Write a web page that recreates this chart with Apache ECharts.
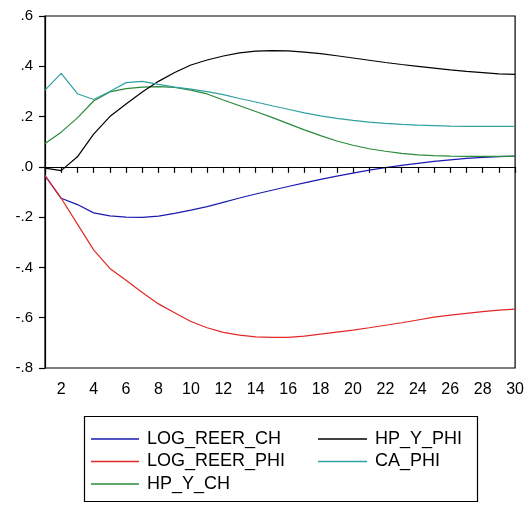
<!DOCTYPE html>
<html>
<head>
<meta charset="utf-8">
<script src="https://cdn.jsdelivr.net/npm/echarts@6/dist/echarts.min.js"></script>
<style>html,body{margin:0;padding:0;background:#fff}#c{width:527px;height:505px}</style>
</head>
<body>
<div id="c"></div>
<script>
var periods = [];
for (var i = 1; i <= 30; i++) periods.push(i);

var seriesNames = ['LOG_REER_CH', 'LOG_REER_PHI', 'HP_Y_CH', 'HP_Y_PHI', 'CA_PHI'];

var logReerCh = [-0.035, -0.125, -0.15, -0.183, -0.195, -0.2, -0.201, -0.196, -0.185, -0.172,
  -0.158, -0.141, -0.124, -0.108, -0.093, -0.078, -0.064, -0.05, -0.037, -0.025,
  -0.013, -0.003, 0.006, 0.014, 0.022, 0.028, 0.034, 0.038, 0.041, 0.043];
var logReerPhi = [-0.035, -0.125, -0.228, -0.33, -0.404, -0.451, -0.5, -0.545, -0.58, -0.615,
  -0.64, -0.658, -0.669, -0.676, -0.678, -0.678, -0.673, -0.665, -0.657, -0.649,
  -0.64, -0.63, -0.62, -0.609, -0.598, -0.59, -0.583, -0.576, -0.57, -0.566];
var hpYCh = [0.093, 0.138, 0.195, 0.262, 0.298, 0.311, 0.317, 0.319, 0.316, 0.305,
  0.29, 0.266, 0.243, 0.22, 0.197, 0.172, 0.147, 0.124, 0.103, 0.086,
  0.072, 0.062, 0.054, 0.048, 0.045, 0.043, 0.042, 0.042, 0.042, 0.042];
var hpYPhi = [-0.005, -0.015, 0.04, 0.13, 0.2, 0.25, 0.298, 0.34, 0.375, 0.405,
  0.425, 0.441, 0.453, 0.46, 0.462, 0.461, 0.456, 0.45, 0.442, 0.433,
  0.424, 0.415, 0.407, 0.4, 0.393, 0.386, 0.38, 0.375, 0.37, 0.368];
var caPhi = [0.305, 0.372, 0.291, 0.268, 0.3, 0.335, 0.34, 0.328, 0.317, 0.309,
  0.299, 0.287, 0.272, 0.258, 0.243, 0.229, 0.215, 0.203, 0.193, 0.185,
  0.178, 0.173, 0.169, 0.166, 0.164, 0.162, 0.161, 0.161, 0.161, 0.161];

var colors = ['#1a1ab0', '#e02828', '#2a8a3a', '#000000', '#30a0a0'];
var allData = [logReerCh, logReerPhi, hpYCh, hpYPhi, caPhi];

function pairs(arr) { return arr.map(function (v, i) { return [periods[i], v]; }); }
function fmtY(v) {
  var s = (Math.round(v * 10) / 10).toFixed(1);
  return s.replace('0.', '.');
}

var FONT = 'Liberation Sans, Arial, sans-serif';
var series = seriesNames.map(function (n, k) {
  var s = {
    name: n, type: 'line', data: pairs(allData[k]), symbol: 'none', showSymbol: false,
    lineStyle: { color: colors[k], width: 1.2 }, itemStyle: { color: colors[k] },
    animation: false, z: 3
  };
  if (k === 0) {
    s.markLine = {
      silent: true, symbol: 'none', label: { show: false },
      lineStyle: { color: '#000', width: 1.2, type: 'solid' },
      data: [{ yAxis: 0 }], animation: false
    };
  }
  return s;
});

var chart = echarts.init(document.getElementById('c'), null, { renderer: 'canvas' });
chart.setOption({
  backgroundColor: '#fff',
  animation: false,
  grid: { left: 45, top: 16, right: 11, bottom: 137, show: true, borderColor: '#000', borderWidth: 1.2, backgroundColor: 'transparent' },
  xAxis: {
    type: 'value', min: 1, max: 30, interval: 1,
    axisLine: { show: true, lineStyle: { color: '#000', width: 1.2 } },
    axisTick: { show: true, inside: false, length: 6, lineStyle: { color: '#000', width: 1.2 } },
    axisLabel: { margin: 14, color: '#000', fontFamily: FONT, fontSize: 16,
      formatter: function (v) { return v % 2 === 0 ? String(v) : ''; } },
    splitLine: { show: false }
  },
  yAxis: {
    type: 'value', min: -0.8, max: 0.6, interval: 0.2,
    axisLine: { show: true, lineStyle: { color: '#000', width: 1.2 } },
    axisTick: { show: true, inside: false, length: 6, lineStyle: { color: '#000', width: 1.2 } },
    axisLabel: { margin: 12, color: '#000', fontFamily: FONT, fontSize: 15, formatter: fmtY },
    splitLine: { show: false }
  },
  legend: [
    {
      data: ['LOG_REER_CH', 'LOG_REER_PHI', 'HP_Y_CH'], orient: 'vertical',
      left: 86, top: 425, itemWidth: 48, itemHeight: 1.5, itemGap: 4.5, icon: 'rect',
      textStyle: { fontFamily: FONT, fontSize: 18, color: '#000', lineHeight: 18, padding: [0, 0, 0, 3] },
      selectedMode: false
    },
    {
      data: ['HP_Y_PHI', 'CA_PHI'], orient: 'vertical',
      left: 313, top: 425, itemWidth: 49, itemHeight: 1.5, itemGap: 4.5, icon: 'rect',
      textStyle: { fontFamily: FONT, fontSize: 18, color: '#000', lineHeight: 18, padding: [0, 0, 0, 3] },
      selectedMode: false
    }
  ],
  graphic: [
    { type: 'rect', shape: { x: 84.5, y: 416.5, width: 393, height: 85 },
      style: { fill: 'none', stroke: '#000', lineWidth: 1.2 }, silent: true, z: 0 }
  ],
  series: series
});
</script>
</body>
</html>
